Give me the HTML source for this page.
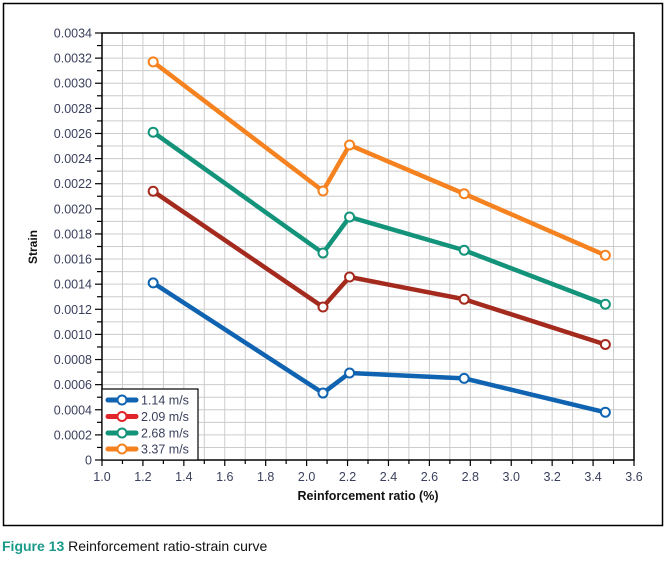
<!DOCTYPE html>
<html><head><meta charset="utf-8"><style>
html,body{margin:0;padding:0;background:#fff;}
body{width:668px;height:557px;position:relative;overflow:hidden;font-family:"Liberation Sans","DejaVu Sans",sans-serif;}
svg text{font-family:"Liberation Sans","DejaVu Sans",sans-serif;}
</style></head><body>
<svg id="chart" width="668" height="557" viewBox="0 0 668 557" xmlns="http://www.w3.org/2000/svg">
<rect x="3.5" y="3.5" width="659" height="522" fill="none" stroke="#000" stroke-width="1.5"/>
<g id="grid"></g><g id="axes"></g><g id="series"></g><g id="legend"></g>
<text transform="translate(37,247) rotate(-90)" text-anchor="middle" font-size="12" font-weight="bold" fill="#111">Strain</text>
<text x="368" y="500" text-anchor="middle" font-size="12.5" font-weight="bold" fill="#111">Reinforcement ratio (%)</text>
<text x="2" y="551" font-size="14" fill="#111"><tspan fill="#1a9a8a" font-weight="bold">Figure 13</tspan> Reinforcement ratio-strain curve</text>
</svg>
<script>
const xValues = [1.25, 2.08, 2.21, 2.77, 3.46];
const seriesNames = ["1.14 m/s", "2.09 m/s", "2.68 m/s", "3.37 m/s"];
const s114 = [0.00141, 0.000533, 0.000693, 0.00065, 0.00038];
const s209 = [0.00214, 0.001218, 0.001457, 0.00128, 0.00092];
const s268 = [0.00261, 0.001648, 0.001935, 0.00167, 0.00124];
const s337 = [0.00317, 0.002142, 0.002508, 0.00212, 0.00163];
const xTicks = ["1.0","1.2","1.4","1.6","1.8","2.0","2.2","2.4","2.6","2.8","3.0","3.2","3.4","3.6"];
const yTicks = ["0","0.0002","0.0004","0.0006","0.0008","0.0010","0.0012","0.0014","0.0016","0.0018","0.0020","0.0022","0.0024","0.0026","0.0028","0.0030","0.0032","0.0034"];

const NS="http://www.w3.org/2000/svg";
const X0=102,X1=634,Y0=460,Y1=33,xmin=1.0,xmax=3.6,ymin=0,ymax=0.0034;
const xs=v=>X0+(v-xmin)/(xmax-xmin)*(X1-X0);
const ys=v=>Y0-(v-ymin)/(ymax-ymin)*(Y0-Y1);
function mk(tag,attrs,parent){const e=document.createElementNS(NS,tag);for(const k in attrs)e.setAttribute(k,attrs[k]);parent.appendChild(e);return e;}
const grid=document.getElementById('grid'),axes=document.getElementById('axes'),ser=document.getElementById('series'),leg=document.getElementById('legend');
for(let i=0;i<=26;i++){const x=xs(xmin+i*0.1);
 const l=mk('line',{x1:x,x2:x,y1:Y1,y2:Y0,stroke:'#cccccc','stroke-width':1},grid);
 
 
 const t=mk('line',{x1:x,x2:x,y1:Y0,y2:Y0+(i%2?4:6),stroke:'#000','stroke-width':1.2},axes);
 
 }
for(let i=0;i<=34;i++){const y=ys(i*0.0001);
 const l=mk('line',{x1:X0,x2:X1,y1:y,y2:y,stroke:'#cccccc','stroke-width':1},grid);
 
 
 const t=mk('line',{x1:X0-(i%2?5:7),x2:X0,y1:y,y2:y,stroke:'#000','stroke-width':1.2},axes);
 
 }
const frame=mk('rect',{x:X0,y:Y1,width:X1-X0,height:Y0-Y1,fill:'none',stroke:'#000','stroke-width':1.5},axes);


xTicks.forEach(s=>{const t=mk('text',{x:xs(parseFloat(s)),y:Y0+21,'text-anchor':'middle','font-size':12.5,fill:'#3a3f5c'},axes);t.textContent=s;
 
 });
yTicks.forEach(s=>{const t=mk('text',{x:X0-10,y:ys(parseFloat(s))+4.5,'text-anchor':'end','font-size':12.5,fill:'#3a3f5c'},axes);t.textContent=s;
 
 });
const colors=['#0f63b0','#a52a1e','#12937a','#f5821f'];
const legendColors=['#0f63b0','#e0262a','#12937a','#f5821f'];
[s114,s209,s268,s337].forEach((vals,k)=>{
 const g=mk('g',{},ser);
 
 
 const pl=mk('polyline',{points:vals.map((v,i)=>xs(xValues[i])+','+ys(v)).join(' '),fill:'none',stroke:colors[k],'stroke-width':4.5,'stroke-linejoin':'round'},g);
 
 
 vals.forEach((v,i)=>{const c=mk('circle',{cx:xs(xValues[i]),cy:ys(v),r:4.5,fill:'#fff',stroke:colors[k],'stroke-width':2},g);
  
  });
});
const lb=mk('rect',{x:X0,y:389,width:96,height:Y0-389,fill:'#fff',stroke:'#000','stroke-width':1.2},leg);


const ly=[400,416.5,433,449];
seriesNames.forEach((n,k)=>{const y=ly[k];
 const g=mk('g',{},leg);
 
 
 mk('line',{x1:108,x2:136,y1:y,y2:y,stroke:legendColors[k],'stroke-width':5,'stroke-linecap':'round'},g);
 mk('circle',{cx:122,cy:y,r:4.5,fill:'#fff',stroke:legendColors[k],'stroke-width':2},g);
 const t=mk('text',{x:141,y:y+4.5,'font-size':12.5,fill:'#3a3f5c'},g);t.textContent=n;});
</script>
</body></html>
